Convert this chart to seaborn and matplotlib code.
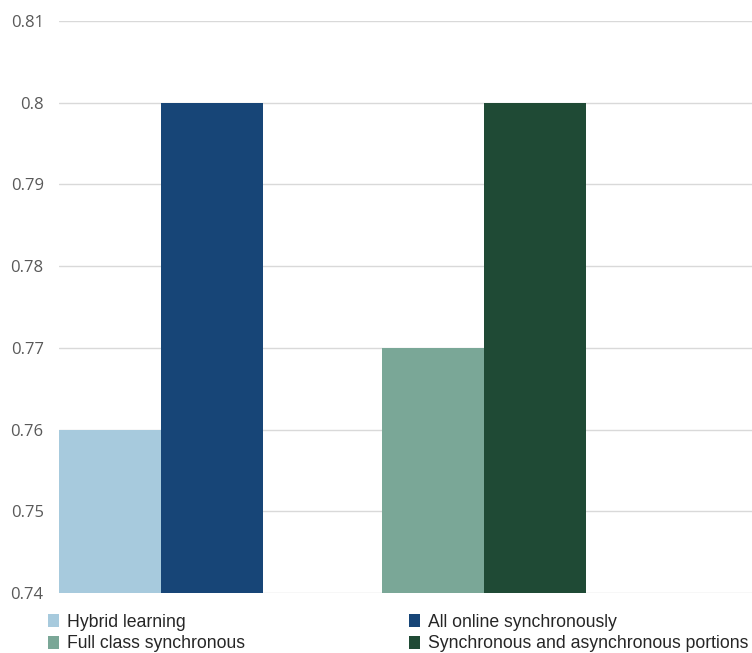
import pandas as pd
import seaborn as sns
import matplotlib.pyplot as plt
from matplotlib.patches import Patch
from matplotlib.ticker import FuncFormatter

## chart values
series = ['Hybrid learning', 'All online synchronously',
          'Full class synchronous', 'Synchronous and asynchronous portions']
groups = ['Hybrid', 'Hybrid', 'Online', 'Online']
sides = ['left', 'right', 'left', 'right']
values = [0.76, 0.80, 0.77, 0.80]
colors = ['#a7cadd', '#174577', '#7aa797', '#1f4a35']
yticks = [0.74, 0.75, 0.76, 0.77, 0.78, 0.79, 0.80, 0.81]

df = pd.DataFrame({'group': groups, 'side': sides, 'value': values, 'series': series})
color_of = dict(zip(series, colors))

sns.set_style('white')
plt.rcParams['font.family'] = ['Liberation Sans', 'DejaVu Sans']

fig = plt.figure(figsize=(7.52, 6.53), dpi=100)
ax = fig.add_axes([59 / 752, 1 - 593 / 653, 1 - 59 / 752, (593 - 21) / 653])

sns.barplot(data=df, x='group', y='value', hue='side', order=['Hybrid', 'Online'],
            hue_order=['left', 'right'], width=0.63, gap=0, saturation=1,
            legend=False, errorbar=None, ax=ax)

# each container is one side, bars in group order -> recolor per series
for side, cont in zip(['left', 'right'], ax.containers):
    for grp, bar in zip(['Hybrid', 'Online'], cont):
        name = df.loc[(df['group'] == grp) & (df['side'] == side), 'series'].iloc[0]
        bar.set_facecolor(color_of[name])
        bar.set_edgecolor('none')

ax.set_ylim(0.74, 0.81)
ax.set_xlim(-0.315, 1.83)
ax.set_yticks(yticks)
ax.yaxis.set_major_formatter(FuncFormatter(lambda v, p: '{:g}'.format(round(v, 2))))
ax.yaxis.grid(True, color='#d9d9d9', lw=1)
ax.set_axisbelow(True)
ax.tick_params(axis='y', length=0, pad=11, labelsize=12, labelcolor='#595959')
ax.tick_params(axis='x', bottom=False, labelbottom=False)
ax.set_xlabel('')
ax.set_ylabel('')
sns.despine(ax=ax, left=True, bottom=True)
for lab in ax.get_yticklabels():
    lab.set_family(['Open Sans', 'DejaVu Sans'])

# two legend columns at the bottom
cols = [[series[0], series[2]], [series[1], series[3]]]
for x0, names in zip([48, 409], cols):
    handles = [Patch(facecolor=color_of[n], edgecolor='none', label=n) for n in names]
    fig.legend(handles=handles, loc='upper left', bbox_to_anchor=(x0 / 752, 1 - 614 / 653),
               frameon=False, fontsize=12.7, handlelength=0.65, handleheight=0.75,
               handletextpad=0.4, labelspacing=0.25, borderpad=0, borderaxespad=0,
               labelcolor='#262626')

fig.savefig('out.png', dpi=100)
